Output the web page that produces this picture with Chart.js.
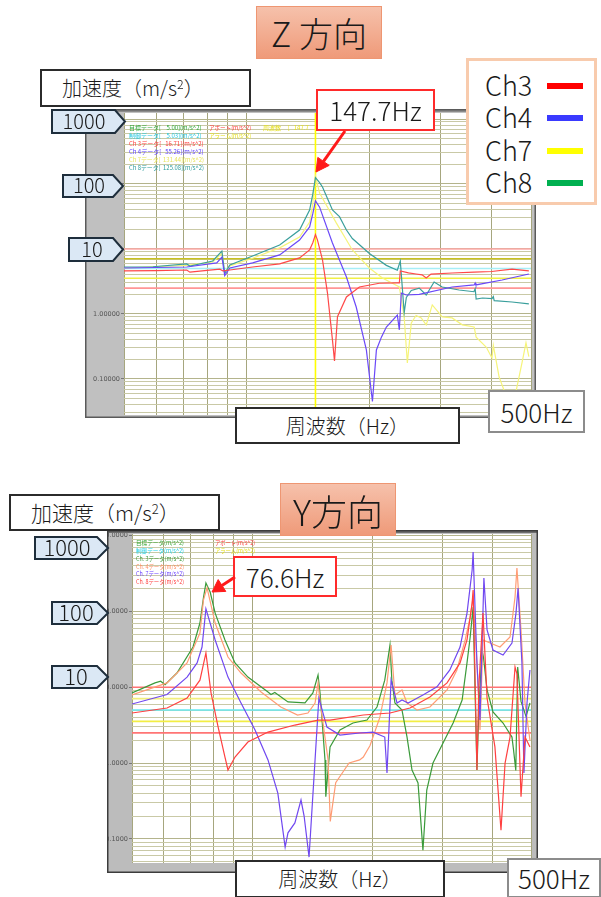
<!DOCTYPE html>
<html lang="ja">
<head>
<meta charset="utf-8">
<script src="https://cdn.jsdelivr.net/npm/chart.js@4/dist/chart.umd.min.js"></script>
<style>
  html, body { margin: 0; padding: 0; background: #fff; }
  body { width: 601px; height: 897px; position: relative; overflow: hidden;
         font-family: "Noto Sans CJK JP", "Noto Sans", sans-serif; font-weight: 300; color: #1a1a1a; }
  .abs { position: absolute; box-sizing: border-box; }
  canvas { position: absolute; }
  .title { background: linear-gradient(#f6c1ab, #ef9a79); border: 1px solid #ee9672;
           display: flex; align-items: center; justify-content: center; line-height: 1; }
  .box { background: #fff; display: flex; align-items: center; line-height: 1; }
  .center { justify-content: center; }
  .sup { font-size: 0.62em; position: relative; top: -0.55em; }
  .leg { position: absolute; left: 16px; font-size: 27px; line-height: 1; }
  .sw { position: absolute; left: 78px; width: 36px; height: 6px; }
  svg { position: absolute; left: 0; top: 0; }
  .tag polygon { fill: #dbe8f5; stroke: #1e2e3c; stroke-width: 2; }
  .tag text { font-family: "Noto Sans CJK JP", sans-serif; font-weight: 300; fill: #1a1a1a; text-anchor: middle; }
</style>
</head>
<body>

<canvas id="chartZ" width="451" height="309" style="left:85px;top:109px"></canvas>
<canvas id="chartY" width="431" height="343" style="left:107px;top:530px"></canvas>

<!-- headings and axis captions -->
<div class="abs title" style="left:256px;top:6px;width:126px;height:53px;font-size:34px">Z 方向</div>
<div class="abs box" style="left:40px;top:69px;width:211px;height:38px;border:2px solid #2b2b2b;font-size:20px;padding-left:20px"><span>加速度（m/s<span class="sup">2</span>）</span></div>
<div class="abs box center" style="left:316px;top:89px;width:119px;height:42px;border:2px solid #ff2a2a;font-size:26px">147.7Hz</div>
<div class="abs box center" style="left:235px;top:407px;width:225px;height:37px;border:2px solid #2b2b2b;font-size:20px">周波数（Hz）</div>
<div class="abs box center" style="left:488px;top:390px;width:97px;height:43px;border:2px solid #8c8c8c;font-size:26px">500Hz</div>

<div class="abs" style="left:466px;top:58px;width:131px;height:147px;border:3px solid #f8cbad;background:#fff">
  <div class="leg" style="top:10px">Ch3</div><div class="sw" style="top:22px;background:#ff0000"></div>
  <div class="leg" style="top:42px">Ch4</div><div class="sw" style="top:54px;background:#3a3aff"></div>
  <div class="leg" style="top:75px">Ch7</div><div class="sw" style="top:87px;background:#ffff00"></div>
  <div class="leg" style="top:107px">Ch8</div><div class="sw" style="top:119px;background:#00b050"></div>
</div>

<div class="abs title" style="left:280px;top:483px;width:116px;height:53px;font-size:36px">Y方向</div>
<div class="abs box" style="left:9px;top:494px;width:211px;height:37px;border:2px solid #2b2b2b;font-size:21px;padding-left:20px"><span>加速度（m/s<span class="sup">2</span>）</span></div>
<div class="abs box center" style="left:233px;top:556px;width:104px;height:41px;border:2px solid #ff2a2a;font-size:26px">76.6Hz</div>
<div class="abs box center" style="left:235px;top:860px;width:210px;height:38px;border:2px solid #2b2b2b;font-size:20px">周波数（Hz）</div>
<div class="abs box center" style="left:507px;top:858px;width:94px;height:40px;border:2px solid #8c8c8c;font-size:26px">500Hz</div>

<!-- level tags and pointer arrows -->
<svg width="601" height="897">
  <g class="tag">
    <polygon points="52,110 115,110 125,121.5 115,133 52,133"/><text x="84" y="129" font-size="20">1000</text>
    <polygon points="63,175 113,175 123,186 113,197 63,197"/><text x="89" y="193" font-size="20">100</text>
    <polygon points="69,238 113,238 123,249.5 113,261 69,261"/><text x="92" y="257" font-size="20">10</text>

    <polygon points="35,537 97,537 108,548 97,559 35,559"/><text x="67" y="556" font-size="22">1000</text>
    <polygon points="52,602 97,602 108,613 97,624 52,624"/><text x="76" y="621" font-size="22">100</text>
    <polygon points="52,666 97,666 108,677 97,688 52,688"/><text x="76" y="685" font-size="22">10</text>
  </g>
  <g fill="#ff1a1a" stroke="#ff1a1a">
    <line x1="345" y1="131" x2="323.5" y2="161.4" stroke-width="3"/>
    <polygon points="316,172 329.2,165.4 317.8,157.4" stroke-width="1"/>
    <line x1="235" y1="577" x2="222" y2="585.5" stroke-width="3"/>
    <polygon points="212,592 225.8,591.4 218.2,579.6" stroke-width="1"/>
  </g>
</svg>

<script>
// ---------- Z direction: frequency (Hz) and acceleration (m/s^2) per channel ----------
const zFreqCh3 = [50, 60, 71.3, 72.6, 80, 86, 87.5, 91, 103.5, 120.6, 135, 142.9, 145.5, 147.7, 149.4, 153.7, 158.1, 162.6, 164.5, 167.3, 176, 189.4, 212, 234.7, 237.4, 238.7, 250, 261, 270, 276.4, 284, 320, 362.5, 400, 449, 494];
const zAccCh3  = [4.6, 4.65, 4.75, 4.4, 4.7, 4.9, 4.6, 4.75, 5.28, 5.9, 7.3, 9.7, 12.5, 16.71, 13.7, 6.8, 2.1, 0.4, 0.19, 0.91, 1.83, 2.6, 2.97, 3.0, 3.0, 4.6, 4.3, 4.12, 4.0, 3.58, 4.1, 4.27, 4.42, 4.5, 4.9, 4.6];

const zFreqCh4 = [50, 71.3, 84.5, 87.0, 88.4, 91, 103.5, 120.6, 135, 142.9, 145.5, 147.7, 151.2, 162.6, 176, 186, 197, 203.9, 208.5, 214.5, 220.6, 234.7, 237.4, 240, 247, 265.7, 320, 362.5, 364.6, 366, 424.6, 494];
const zAccCh4  = [5.1, 5.28, 6.1, 7.5, 3.9, 5.1, 6.1, 8.1, 13.7, 21.8, 35, 55.26, 44, 12.4, 3.7, 1.28, 0.28, 0.045, 0.28, 0.44, 0.63, 0.96, 0.57, 2.1, 1.96, 2.0, 2.6, 2.8, 3.0, 2.8, 3.33, 4.12];

const zFreqCh7 = [50, 71.3, 82.6, 87, 88.4, 91, 103.5, 120.6, 135, 142.9, 145.5, 147.7, 151.2, 166.3, 182, 200.4, 215.7, 237.4, 244, 248.4, 254, 261, 268.7, 276.4, 286, 302.6, 320, 339, 362.5, 366.6, 388, 401, 404, 417.5, 429, 442, 459.5, 475, 486, 494];
const zAccCh7  = [5.1, 5.6, 6.3, 8.6, 4.3, 5.5, 7.2, 10.4, 15.3, 26, 50, 131.44, 72.6, 25, 9.65, 5.1, 3.58, 2.6, 0.9, 0.176, 0.73, 0.95, 0.87, 0.68, 1.38, 0.9, 0.87, 0.68, 0.63, 0.44, 0.31, 0.21, 0.33, 0.107, 0.068, 0.053, 0.065, 0.176, 0.36, 0.22];

const zFreqCh8 = [50, 58.9, 71.3, 72.6, 82.6, 87.0, 88.4, 91, 103.5, 120.6, 135, 142.9, 145.5, 147.7, 151.2, 153.7, 162.6, 169.2, 176, 182, 200.4, 220.6, 234.7, 238.7, 244, 247, 254, 265.7, 276.4, 289, 302.6, 333, 362, 364.6, 366.6, 380, 401, 404, 406, 449, 494];
const zAccCh8  = [5.28, 5.33, 5.88, 5.47, 6.54, 9.3, 4.2, 5.67, 7.8, 11.5, 19.6, 39.8, 70, 125.08, 105, 90, 39.8, 31.4, 19.6, 14.5, 8.5, 5.6, 4.7, 6.5, 1.05, 1.8, 2.3, 2.5, 1.96, 3.1, 2.6, 2.34, 2.2, 2.45, 1.7, 1.76, 1.72, 1.85, 1.6, 1.53, 1.43];

const zCursorHz = 147.7;
const zTarget = 5.00, zControl = 5.03;

// ---------- Y direction ----------
const yFreqCh3 = [50, 57.1, 59, 60.5, 64.8, 71.1, 74, 75.5, 76.6, 78.5, 80.8, 85.5, 90.6, 97.6, 109.6, 111.5, 114, 123, 135.7, 142, 146.3, 148, 152.3, 153, 156.8, 166, 179, 194, 205.6, 215, 221.6, 224, 228, 237.5, 244.5, 251.6, 260.5, 268, 274, 284, 301, 319, 336, 345.6, 352, 358, 362, 366, 370, 377, 380, 388, 401.5, 425.5, 448, 452, 458, 463, 472, 486, 497];
const yAccCh3  = [8.39, 11.4, 12.0, 10.8, 15.4, 33.9, 70.3, 150, 237, 180, 95, 42, 20.9, 13.6, 8.64, 8.0, 8.5, 6.4, 6.2, 8.4, 14.5, 8.4, 1.1, 0.36, 1.63, 2.73, 3.37, 3.69, 5.48, 12.4, 36, 12.4, 6.2, 5.0, 2.2, 0.81, 0.545, 0.071, 0.44, 1.0, 1.84, 3.37, 6.78, 20.9, 45.9, 114, 9.19, 0.81, 5.0, 31, 25, 9.19, 4.71, 3.37, 2.2, 1.5, 0.8, 18.5, 6.5, 4.1, 6.2];

const yFreqCh4 = [50, 61.2, 68.7, 74, 75.5, 77.1, 80.8, 87, 93.8, 105.3, 118, 130, 138, 143.8, 146.3, 148, 155, 157, 162, 175, 186, 190, 197.5, 209, 217.8, 223, 228, 237.5, 244.5, 259, 279, 308, 326, 342, 352, 358, 366, 372.5, 379, 395, 418, 443, 456, 461, 472, 483, 497];
const yAccCh4  = [7.9, 11.4, 20.9, 51.9, 141, 204, 70.3, 25, 15.4, 8.64, 5.48, 4.3, 4.57, 6.19, 11.4, 6.5, 1.1, 0.17, 0.55, 1.0, 1.1, 1.2, 1.7, 4.0, 11.4, 36, 7.9, 9.19, 6.19, 5.0, 5.48, 9.19, 16.9, 42, 84, 155, 20.9, 2.73, 42, 38.3, 33.9, 45.9, 155, 374, 56.9, 6.19, 2.0];

const yFreqCh7 = [50, 61.2, 68.7, 72.8, 74.9, 76.6, 80.8, 87, 93.8, 101.7, 109.6, 116, 121, 123, 128, 132.6, 135, 138.9, 143.8, 147, 154, 166, 186, 201, 215, 217.8, 223, 230.8, 237.5, 246, 268, 290.6, 313, 332, 345.6, 356, 358, 366, 372.5, 381, 388, 401.5, 425.5, 448, 458.5, 464, 474.5, 480, 488.6, 497];
const yAccCh7  = [6.0, 8.0, 13.6, 20.9, 33.9, 108, 42, 13.6, 6.19, 2.73, 1.1, 0.4, 0.078, 0.12, 0.162, 0.325, 0.2, 0.0575, 1.1, 7.21, 2.98, 2.34, 2.49, 2.56, 2.2, 0.74, 12.4, 6.19, 6.78, 6.19, 7.89, 10.1, 16.9, 33.9, 95, 352, 608, 20.9, 3.69, 276, 56.9, 31, 26.6, 38.3, 95, 204, 20.9, 0.74, 6.19, 16.9];

const yFreqCh8 = [50, 61.2, 68.7, 74, 76.6, 78.9, 82.2, 85.5, 87, 90.6, 97.6, 109.6, 128, 146.3, 156.8, 190, 221.6, 248.7, 279, 308, 332, 345.6, 356, 358, 362, 366, 370, 379, 388, 406, 420.5, 430.5, 443, 456, 461, 472, 483, 497];
const yAccCh8  = [4.57, 5.32, 7.21, 12.4, 28.3, 8.39, 2.98, 1.2, 0.81, 1.2, 1.89, 2.56, 3.17, 3.69, 3.69, 4.3, 4.57, 5.32, 7.42, 11.4, 20.9, 42, 129, 192, 14, 0.81, 10, 95, 7.21, 1.63, 0.13, 1.0, 2.2, 18.5, 15, 0.36, 2.2, 1.63];

// abort / alarm / target levels (m/s^2), shared by both runs
const levelValues = [10, 7.07, 5.0, 3.54, 2.5];

// frequency grid
const freqGrid = [50, 60, 70, 80, 90, 100, 200, 300, 400, 500];

// ---------- helpers ----------
const pts = (f, v) => f.map((x, i) => ({ x, y: v[i] }));
const flat = (lv) => [{ x: freqGrid[0], y: lv }, { x: freqGrid[freqGrid.length - 1], y: lv }];
const isDecade = v => Math.abs(Math.log10(v) - Math.round(Math.log10(v))) < 1e-6;
function logGrid(min, max) {
  const out = [];
  for (let e = -2; e <= 3; e++)
    for (let k = 1; k <= 9; k++) {
      const v = +(k * Math.pow(10, e)).toPrecision(6);
      if (v >= min && v <= max) out.push(v);
    }
  return out;
}
const at = (f, v, hz) => v[f.indexOf(hz)];

// grey instrument panel behind the plot
const panelPlugin = {
  id: 'panel',
  beforeDraw(chart, args, o) {
    const { ctx, width, height, chartArea: a } = chart;
    ctx.save();
    ctx.fillStyle = o.gray;
    ctx.fillRect(0, 0, width, height);
    ctx.fillStyle = '#ffffff';
    ctx.fillRect(a.left, a.top, a.right - a.left, a.bottom - a.top);
    ctx.restore();
  },
  afterDraw(chart, args, o) {
    const { ctx, width, height } = chart;
    ctx.save();
    ctx.fillStyle = o.topBar;
    ctx.fillRect(0, 0, width, 3);
    ctx.strokeStyle = o.edge;
    ctx.lineWidth = 1.5;
    ctx.strokeRect(0.75, 0.75, width - 1.5, height - 1.5);
    ctx.restore();
  }
};

// small channel read-out printed in the plot corner
const readoutPlugin = {
  id: 'readout',
  afterDraw(chart, args, o) {
    const { ctx, chartArea: a } = chart;
    ctx.save();
    ctx.font = o.font;
    ctx.textBaseline = 'middle';
    o.items.forEach(it => {
      ctx.fillStyle = it.color;
      ctx.fillText(it.text, a.left + it.dx, a.top + o.y0 + it.row * o.dy, it.w);
    });
    ctx.restore();
  }
};

function makeChart(id, cfg) {
  const yVals = logGrid(cfg.yMin, cfg.yMax);
  const datasets = [];
  cfg.series.forEach((s, i) => datasets.push({
    data: pts(s.f, s.v), borderColor: s.color, borderWidth: 1.2, order: 1 + i
  }));
  if (cfg.cursor) datasets.push({
    data: [{ x: cfg.cursor, y: cfg.yMin }, { x: cfg.cursor, y: cfg.yMax }],
    borderColor: '#ffff00', borderWidth: 1.6, order: 8
  });
  levelValues.forEach((lv, i) => datasets.push({
    data: flat(lv), borderColor: cfg.levelColors[i], borderWidth: 1.6, order: 20
  }));

  return new Chart(document.getElementById(id), {
    type: 'line',
    data: { datasets },
    plugins: [panelPlugin, readoutPlugin],
    options: {
      responsive: false,
      animation: false,
      devicePixelRatio: 1,
      layout: { padding: cfg.padding },
      elements: { point: { radius: 0 }, line: { tension: 0 } },
      plugins: {
        legend: { display: false },
        tooltip: { enabled: false },
        panel: cfg.panel,
        readout: cfg.readout
      },
      scales: {
        x: {
          type: 'logarithmic', min: 50, max: 500,
          afterBuildTicks: s => { s.ticks = freqGrid.map(v => ({ value: v })); },
          afterFit: s => { s.height = 0; s.paddingLeft = 0; s.paddingRight = 0; },
          ticks: { display: false },
          border: { display: false },
          grid: { color: '#a6a67e', lineWidth: 1, drawTicks: false }
        },
        y: {
          type: 'logarithmic', min: cfg.yMin, max: cfg.yMax,
          afterBuildTicks: s => { s.ticks = yVals.map(v => ({ value: v })); },
          afterFit: s => { s.width = cfg.axisWidth; s.paddingTop = 0; s.paddingBottom = 0; },
          ticks: {
            autoSkip: false,
            padding: 1,
            color: '#555',
            font: { size: 6.5, family: 'DejaVu Sans' },
            callback: v => isDecade(v) ? Number(v).toFixed(cfg.decimals) : ''
          },
          border: { display: false },
          grid: {
            lineWidth: 1,
            color: c => (c.tick && isDecade(c.tick.value)) ? '#b4b48c' : '#c9c9a6',
            tickLength: 3,
            tickColor: c => (c.tick && isDecade(c.tick.value)) ? '#777' : 'rgba(0,0,0,0)'
          }
        }
      }
    }
  });
}

// ---------- Z direction chart ----------
const zLabel = (name, f, v) => `${name}データ[ ${at(f, v, zCursorHz).toFixed(2).padStart(7, ' ')}](m/s^2)`;
makeChart('chartZ', {
  yMin: 0.0279, yMax: 1237, axisWidth: 39, decimals: 5,
  padding: { top: 4, right: 5, bottom: 3, left: 0 },
  cursor: zCursorHz,
  levelColors: ['#ffa8a8', '#c8c020', '#a6eef6', '#f2f044', '#ff9696'],
  series: [
    { f: zFreqCh3, v: zAccCh3, color: '#ff4848' },
    { f: zFreqCh4, v: zAccCh4, color: '#6a48f8' },
    { f: zFreqCh8, v: zAccCh8, color: '#3a9f9c' },
    { f: zFreqCh7, v: zAccCh7, color: '#f6f47a' }
  ],
  panel: { gray: '#c0c0c0', edge: '#5a5a5a', topBar: '#8c8c8c' },
  readout: {
    font: '6px "Noto Sans CJK JP"', y0: 14.7, dy: 8.1,
    items: [
      { row: 0, dx: 5, w: 76, color: '#2fa83a', text: `目標データ[    ${zTarget.toFixed(2)}](m/s^2)` },
      { row: 0, dx: 85, w: 42, color: '#ff3a3a', text: 'アボート(m/s^2)' },
      { row: 0, dx: 139, w: 52, color: '#e6e020', text: `周波数     [   ${zCursorHz}` },
      { row: 1, dx: 5, w: 76, color: '#22c8e0', text: `制御データ[    ${zControl.toFixed(2)}](m/s^2)` },
      { row: 1, dx: 85, w: 42, color: '#e6e020', text: 'アラーム(m/s^2)' },
      { row: 2, dx: 5, w: 75, color: '#ff3a3a', text: zLabel('Ch 3', zFreqCh3, zAccCh3) },
      { row: 3, dx: 5, w: 75, color: '#5a3cff', text: zLabel('Ch 4', zFreqCh4, zAccCh4) },
      { row: 4, dx: 5, w: 75, color: '#e8e45a', text: zLabel('Ch 7', zFreqCh7, zAccCh7) },
      { row: 5, dx: 5, w: 75, color: '#2a9a9a', text: zLabel('Ch 8', zFreqCh8, zAccCh8) }
    ]
  }
});

// ---------- Y direction chart ----------
makeChart('chartY', {
  yMin: 0.048, yMax: 1050, axisWidth: 25, decimals: 4,
  padding: { top: 4, right: 7, bottom: 10, left: 0 },
  cursor: null,
  levelColors: ['#ff7474', '#f2ee7c', '#66e8f2', '#f2ee44', '#ff7474'],
  series: [
    { f: yFreqCh8, v: yAccCh8, color: '#ff4040' },
    { f: yFreqCh7, v: yAccCh7, color: '#7048f0' },
    { f: yFreqCh4, v: yAccCh4, color: '#ff9c74' },
    { f: yFreqCh3, v: yAccCh3, color: '#3a9a3a' }
  ],
  panel: { gray: '#bcbcbc', edge: '#3c3c3c', topBar: '#6e6e6e' },
  readout: {
    font: '6px "Noto Sans CJK JP"', y0: 9, dy: 7.8,
    items: [
      { row: 0, dx: 4, w: 48, color: '#3aa83a', text: '目標データ(m/s^2)' },
      { row: 0, dx: 83, w: 40, color: '#ff3a3a', text: 'アボート(m/s^2)' },
      { row: 1, dx: 4, w: 48, color: '#22d0e6', text: '制御データ(m/s^2)' },
      { row: 1, dx: 83, w: 40, color: '#e6e020', text: 'アラーム(m/s^2)' },
      { row: 2, dx: 4, w: 48, color: '#3a9a3a', text: 'Ch. 3データ(m/s^2)' },
      { row: 3, dx: 4, w: 48, color: '#ff8c62', text: 'Ch. 4データ(m/s^2)' },
      { row: 4, dx: 4, w: 48, color: '#6a40ff', text: 'Ch. 7データ(m/s^2)' },
      { row: 5, dx: 4, w: 48, color: '#ff4040', text: 'Ch. 8データ(m/s^2)' }
    ]
  }
});
</script>
</body>
</html>
